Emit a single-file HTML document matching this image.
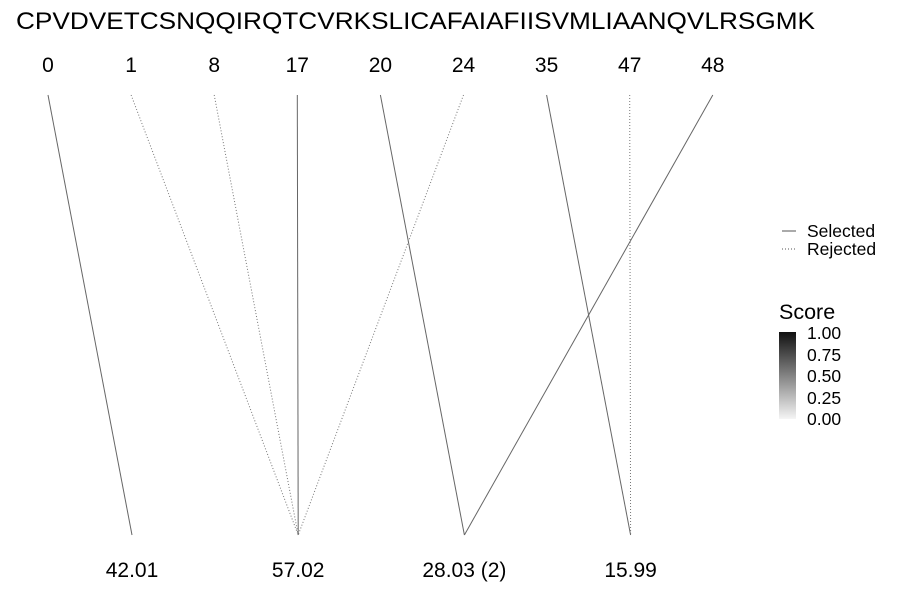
<!DOCTYPE html>
<html><head><meta charset="utf-8"><style>
body{margin:0;background:#fff;font-family:"Liberation Sans",sans-serif;}
</style></head><body>
<svg id="chart" width="900" height="600" xmlns="http://www.w3.org/2000/svg" font-family="Liberation Sans, sans-serif">
<defs><linearGradient id="g" x1="0" y1="1" x2="0" y2="0"><stop offset="0" stop-color="#f5f5f5"/><stop offset="1" stop-color="#111"/></linearGradient></defs>
<text x="16" y="29" font-size="24" textLength="799" lengthAdjust="spacingAndGlyphs" fill="#000">CPVDVETCSNQQIRQTCVRKSLICAFAIAFIISVMLIAANQVLRSGMK</text>
<g id="lines"></g><g id="toplabels"></g><g id="bottomlabels"></g>
<g>
<line x1="782" y1="231" x2="796" y2="231" stroke="#555" stroke-width="1"/>
<text x="807" y="237" font-size="17.5">Selected</text>
<line x1="782" y1="249" x2="796" y2="249" stroke="#555" stroke-width="1" stroke-dasharray="1,2"/>
<text x="807" y="255" font-size="17.5">Rejected</text>
</g>
<g>
<text x="779" y="319" font-size="21.5">Score</text>
<rect x="779" y="332" width="17" height="87" fill="url(#g)"/>
<text x="807" y="339" font-size="17.5">1.00</text>
<text x="807" y="361" font-size="17.5">0.75</text>
<text x="807" y="382" font-size="17.5">0.50</text>
<text x="807" y="404" font-size="17.5">0.25</text>
<text x="807" y="425" font-size="17.5">0.00</text>
</g>
</svg>
<script>
const topLabels=["0","1","8","17","20","24","35","47","48"];
const bottomLabels=["42.01","57.02","28.03 (2)","15.99"];
const linkFrom=[0,1,2,3,4,5,6,7,8];
const linkTo=[0,1,1,1,2,1,3,3,2];
const linkSelected=[true,false,false,true,true,false,true,false,true];
const ns="http://www.w3.org/2000/svg";
const topX=i=>48+i*83.1, botX=j=>132+j*166.2;
function mk(t,a,p){const e=document.createElementNS(ns,t);for(const k in a)e.setAttribute(k,a[k]);p.appendChild(e);return e;}
const L=document.getElementById('lines'),T=document.getElementById('toplabels'),B=document.getElementById('bottomlabels');
topLabels.forEach((s,i)=>{const t=mk('text',{x:topX(i),y:72,'font-size':21,'text-anchor':'middle'},T);t.textContent=s;

});
bottomLabels.forEach((s,j)=>{const t=mk('text',{x:botX(j),y:577,'font-size':21,'text-anchor':'middle'},B);t.textContent=s;

});
linkFrom.forEach((f,k)=>{const a={x1:topX(f),y1:95,x2:botX(linkTo[k]),y2:535,stroke:linkSelected[k]?'#666':'#777','stroke-width':1};
if(!linkSelected[k])a['stroke-dasharray']='1,2';
const l=mk('line',a,L);

});
</script>
</body></html>
